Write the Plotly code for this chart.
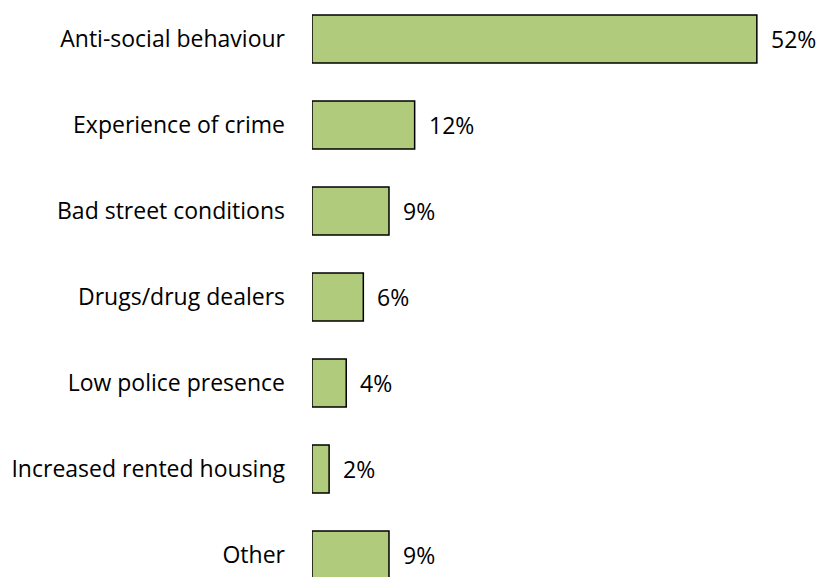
import plotly.graph_objects as go

categories = [
    "Anti-social behaviour",
    "Experience of crime",
    "Bad street conditions",
    "Drugs/drug dealers",
    "Low police presence",
    "Increased rented housing",
    "Other",
]
values = [52, 12, 9, 6, 4, 2, 9]
value_labels = [f"{v}%" for v in values]

font_family = "Open Sans, Lato, sans-serif"
positions = list(range(len(categories)))

fig = go.Figure(
    go.Bar(
        x=values,
        y=positions,
        orientation="h",
        width=0.56,
        marker=dict(color="#B0CB7B", line=dict(color="#000000", width=1.5)),
        hoverinfo="skip",
    )
)

for pos, v, lab in zip(positions, values, value_labels):
    fig.add_annotation(
        x=v, y=pos, text=lab, showarrow=False,
        xanchor="left", xshift=12, yanchor="middle",
        font=dict(family=font_family, size=23, color="#000000"),
    )

fig.update_layout(
    width=827,
    height=577,
    margin=dict(l=312, r=0, t=0, b=0),
    paper_bgcolor="white",
    plot_bgcolor="white",
    showlegend=False,
    xaxis=dict(range=[0, 60.2], visible=False),
    yaxis=dict(
        range=[6.256, -0.4535],
        tickvals=positions,
        ticktext=categories,
        showgrid=False,
        zeroline=False,
        showline=False,
        ticks="",
        ticklabelstandoff=26,
        tickfont=dict(family=font_family, size=23, color="#000000"),
    ),
)

fig.write_html("out.html")
